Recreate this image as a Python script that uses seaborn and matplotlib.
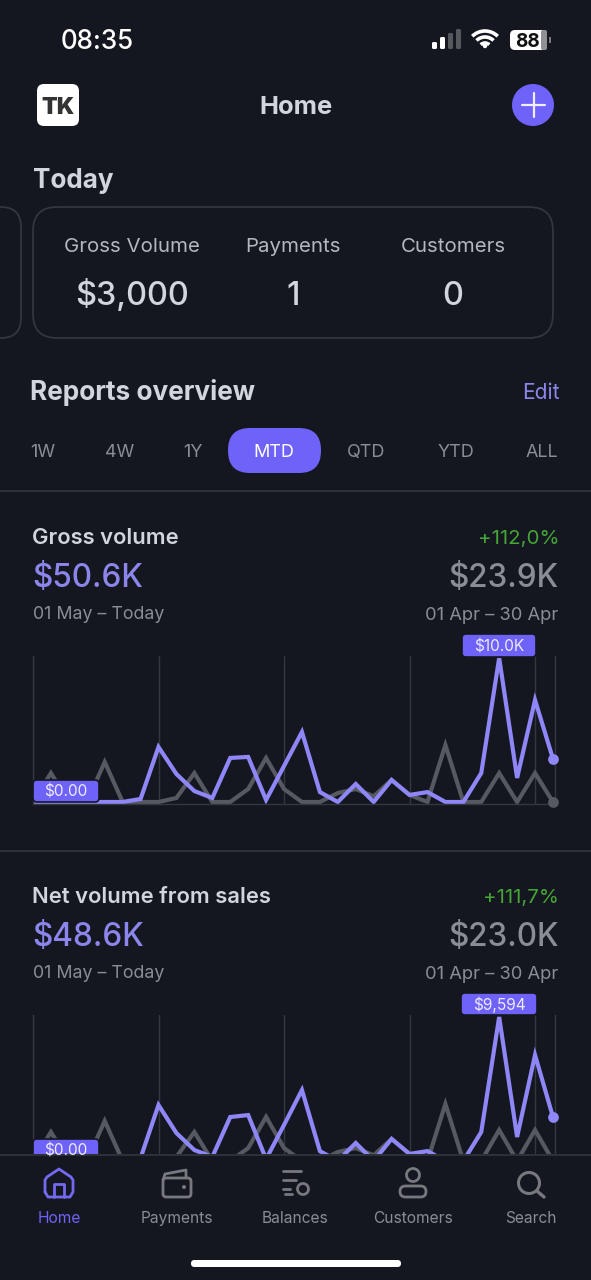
import matplotlib
matplotlib.use("Agg")
import matplotlib.pyplot as plt
import numpy as np
import seaborn as sns
from matplotlib.patches import FancyBboxPatch, Rectangle, Circle, Wedge, Polygon, Arc

days = list(range(1, 31))
gross_current = [0,0,0,0,0,0,210,3820,1940,760,280,3060,3130,140,2500,4860,690,0,1250,0,1530,490,690,0,0,2010,10000,1670,7080,3000]
gross_previous = [0,2010,0,0,2780,0,0,0,280,2010,0,0,900,3060,900,0,0,625,900,400,1530,490,0,3960,0,0,2010,0,2010,0]
net_current = [0,0,0,0,0,0,200,3730,1860,730,270,2930,3060,130,2400,4730,660,0,1200,0,1470,470,660,0,0,1930,9594,1600,7060,2930]
net_previous = [0,1930,0,0,2670,0,0,0,270,1930,0,0,860,2940,860,0,0,600,860,380,1470,470,0,3800,0,0,2065,0,2065,0]
grid_days = [1, 8, 15, 22, 29]
ranges = ["1W", "4W", "1Y", "MTD", "QTD", "YTD", "ALL"]
range_x = [43, 120, 193, 274, 366, 456, 542]
nav_labels = ["Home", "Payments", "Balances", "Customers", "Search"]
nav_x = [59, 177, 295, 413, 531]

BG = "#14171F"
PURPLE = "#8F86F7"
BADGE = "#6E62F8"
GRAYLINE = "#565960"
RULE = "#33363D"
TXT = "#D3D5DC"
MUTED = "#8A8D94"
PTXT = "#8C85EC"
GREEN = "#45A535"

sns.set_theme(style="dark")
plt.rcParams["font.family"] = ["Inter", "DejaVu Sans"]

W, H = 591, 1280
fig = plt.figure(figsize=(W / 100, H / 100), dpi=100, facecolor=BG)


def pixel_axes(z):
    a = fig.add_axes([0, 0, 1, 1], zorder=z)
    a.set_xlim(0, W)
    a.set_ylim(H, 0)
    a.axis("off")
    return a


ui = pixel_axes(0)
top = pixel_axes(3)


def T(a, x, y, s, px, color=TXT, weight="normal", ha="center"):
    a.text(x, y + 0.36 * px, s, fontsize=px * 0.72, color=color, fontweight=weight, ha=ha, va="baseline")


def rbox(a, x0, y0, x1, y1, r, **kw):
    a.add_patch(FancyBboxPatch((x0 + r, y0 + r), x1 - x0 - 2 * r, y1 - y0 - 2 * r,
                               boxstyle=f"round,pad={r},rounding_size={r}", **kw))


# status bar
T(ui, 97, 40, "08:35", 26, "#FFFFFF", "medium")
for x, hh, c in [(432, 7, "#FFFFFF"), (440, 12, "#FFFFFF"), (448, 16, "#55585C"), (456, 20, "#55585C")]:
    rbox(ui, x, 49 - hh, x + 5, 49, 1.5, fc=c, ec="none")
for r in [18, 12, 6]:
    ui.add_patch(Arc((485, 49), 2 * r, 2 * r, theta1=225, theta2=315, color="#FFFFFF", lw=2.6))
ui.add_patch(Circle((485, 46), 2.2, fc="#FFFFFF", ec="none"))
rbox(ui, 510, 30, 547, 50, 5, fc="#FFFFFF", ec="none")
rbox(ui, 541, 30, 547, 50, 2, fc="#8E9093", ec="none")
ui.add_patch(Rectangle((549, 37), 2, 6, fc="#77797C", ec="none"))
T(ui, 527, 40, "88", 19, "#111111", "bold")

# header
rbox(ui, 37, 84, 79, 126, 7, fc="#FFFFFF", ec="none")
T(ui, 58, 106, "TK", 23, "#333333", "black")
T(ui, 296, 105, "Home", 25.5, TXT, "bold")
ui.add_patch(Circle((533, 105), 21, fc=BADGE, ec="none"))
ui.plot([522, 545], [105, 105], color="#F0EEFF", lw=1.6)
ui.plot([533.5, 533.5], [93, 117], color="#F0EEFF", lw=1.6)
T(ui, 33, 179, "Today", 26, TXT, "bold", "left")

# today card
rbox(ui, -40, 207, 21, 338, 20, fc="none", ec=RULE, lw=1.3)
rbox(ui, 33, 207, 553, 338, 24, fc="none", ec=RULE, lw=1.3)
for x, lab, val in [(132, "Gross Volume", "$3,000"), (293, "Payments", "1"), (453, "Customers", "0")]:
    T(ui, x, 245, lab, 20.4, "#B5B7BD")
    T(ui, x, 293, val, 32.5, TXT, "medium")

# reports header
T(ui, 30, 391, "Reports overview", 26.2, TXT, "bold", "left")
T(ui, 541, 391, "Edit", 21, PTXT)
rbox(ui, 228, 428, 321, 473, 22, fc=BADGE, ec="none")
for x, lab in zip(range_x, ranges):
    T(ui, x, 451, lab, 18, "#FFFFFF" if lab == "MTD" else MUTED)
for y in [491, 851]:
    ui.plot([0, W], [y, y], color=RULE, lw=1.2)


def heading(dy, title, now, pct, prev):
    T(ui, 32.5, 536 + dy, title, 22, TXT, "semibold", "left")
    T(ui, 32, 576 + dy, now, 31.5, PTXT, "medium", "left")
    T(ui, 559, 537 + dy, pct, 20.5, GREEN, "normal", "right")
    T(ui, 559, 576 + dy, prev, 31.5, MUTED, "medium", "right")
    T(ui, 33, 613 + dy, "01 May – Today", 17.8, MUTED, "normal", "left")
    T(ui, 558.5, 613 + dy, "01 Apr – 30 Apr", 18.4, MUTED, "normal", "right")


heading(0, "Gross volume", "$50.6K", "+112,0%", "$23.9K")
heading(359, "Net volume from sales", "$48.6K", "+111,7%", "$23.0K")


def chart(cur, prev, y_top, y_bot, ylim):
    a = fig.add_axes([33 / W, 1 - y_bot / H, (555 - 33) / W, (y_bot - y_top) / H], zorder=1)
    a.patch.set_alpha(0)
    sns.lineplot(x=days, y=prev, color=GRAYLINE, lw=3, ax=a, solid_joinstyle="miter", solid_capstyle="butt")
    sns.lineplot(x=days, y=cur, color=PURPLE, lw=3, ax=a, solid_joinstyle="miter", solid_capstyle="butt")
    sns.scatterplot(x=days[-1:], y=prev[-1:], color=GRAYLINE, s=60, ax=a, linewidth=0, clip_on=False, zorder=4)
    sns.scatterplot(x=days[-1:], y=cur[-1:], color=PURPLE, s=60, ax=a, linewidth=0, clip_on=False, zorder=5)
    a.set_xlim(1, 1 + 522 / 17.93)
    a.set_ylim(*ylim)
    a.set_xticks(grid_days)
    a.set_yticks([])
    a.set_xticklabels([])
    a.tick_params(length=0)
    a.grid(axis="x", color="#34373E", lw=1)
    a.grid(axis="y", visible=False)
    for s in ["top"]:
        a.spines[s].set_visible(False)
    for s in ["left", "right", "bottom"]:
        a.spines[s].set_color("#34373E")
        a.spines[s].set_linewidth(1)
    return a


chart(gross_current, gross_previous, 656, 804, (-139, 10139))
ax2 = chart(net_current, net_previous, 1015, 1154, (466, 9727))
ax2.spines["bottom"].set_visible(False)


def badge(x0, y0, x1, y1, s):
    rbox(top, x0, y0, x1, y1, 4, fc=BADGE, ec=BG, lw=1.2)
    T(top, (x0 + x1) / 2, (y0 + y1) / 2, s, 15.5, "#EDEBFF")


badge(33, 780, 99, 802, "$0.00")
badge(462, 634, 536, 657, "$10.0K")
badge(33, 1139, 99, 1161, "$0.00")
badge(461, 993, 537, 1015, "$9,594")

# nav
top.add_patch(Rectangle((0, 1154), W, 126, fc=BG, ec="none"))
top.plot([0, W], [1154.5, 1154.5], color=RULE, lw=1.2)
for x, lab in zip(nav_x, nav_labels):
    T(top, x, 1217, lab, 15.5, BADGE if lab == "Home" else MUTED)
# home icon
HC = "#7469F2"
top.plot([45, 45, 47, 59, 71, 73, 73, 70, 48, 45], [1192, 1180, 1177, 1169, 1177, 1180, 1192, 1197, 1197, 1192],
         color=HC, lw=2, solid_joinstyle="round")
top.plot([54, 54, 64, 64], [1197, 1184, 1184, 1197], color=HC, lw=2)
# wallet icon
GC = "#77797E"
rbox(top, 163, 1178, 191, 1197, 3, fc="none", ec=GC, lw=2)
top.plot([163, 165, 186, 186], [1180, 1174, 1170, 1177], color=GC, lw=2)
top.add_patch(Circle((184, 1187), 2, fc=GC, ec="none"))
# balances icon
for x0, x1, y in [(283, 301, 1171), (283, 296, 1180), (283, 290, 1189), (285, 292, 1194)]:
    top.plot([x0, x1], [y, y], color=GC, lw=2)
top.add_patch(Circle((303, 1189), 5.5, fc="none", ec=GC, lw=2))
# customer icon
top.add_patch(Circle((413, 1175), 6.5, fc="none", ec=GC, lw=2))
rbox(top, 400, 1186, 426, 1197, 5.5, fc="none", ec=GC, lw=2)
# search icon
top.add_patch(Circle((529, 1183), 10.5, fc="none", ec=GC, lw=2.2))
top.plot([537, 544], [1191, 1197], color=GC, lw=2.4)
# home bar
rbox(top, 191, 1260, 401, 1267, 3.5, fc="#FFFFFF", ec="none")

fig.savefig("out.png", dpi=100, facecolor=BG)
